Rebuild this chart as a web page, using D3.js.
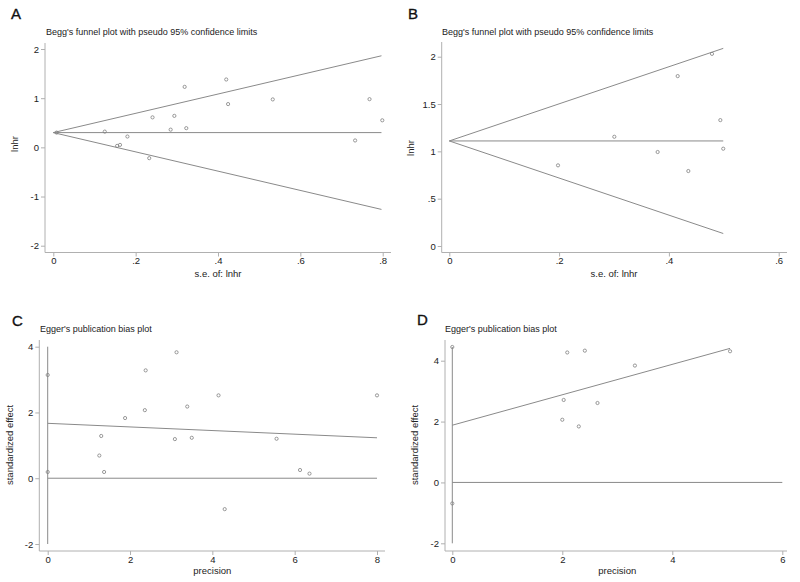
<!DOCTYPE html>
<html><head><meta charset="utf-8">
<script src="https://cdn.jsdelivr.net/npm/d3@7"></script>
<style>body{margin:0;background:#fff}svg{display:block;font-family:"Liberation Sans",Arial,sans-serif}</style>
</head><body>
<svg id="c" width="800" height="582"></svg>
<script>
// ---- Panel A: Begg's funnel (s.e. of lnhr, lnhr)
const aSE   = [0.008,0.125,0.155,0.162,0.18,0.233,0.241,0.285,0.294,0.319,0.323,0.42,0.4245,0.533,0.733,0.768,0.799];
const aLnhr = [0.30,0.32,0.03,0.05,0.22,-0.22,0.61,0.36,0.64,1.23,0.39,1.38,0.88,0.975,0.14,0.98,0.55];
const aPooled = 0.30;
const aXTicks = [0,0.2,0.4,0.6,0.8];
const aYTicks = [-2,-1,0,1,2];
// ---- Panel B: Begg's funnel
const bSE   = [0.198,0.3006,0.3795,0.416,0.4354,0.4785,0.4937,0.499];
const bLnhr = [0.852,1.154,0.993,1.795,0.792,2.03,1.33,1.028];
const bPooled = 1.11;
const bXTicks = [0,0.2,0.4,0.6];
const bYTicks = [0,0.5,1,1.5,2];
// ---- Panel C: Egger's plot (precision, standardized effect)
const cPrec = [0,0,1.254,1.30,1.37,1.88,2.36,2.38,3.09,3.13,3.39,3.50,4.15,4.30,5.56,6.13,6.36,8.0];
const cStd  = [3.14,0.19,0.69,1.285,0.19,1.83,2.07,3.28,1.19,3.83,2.18,1.23,2.52,-0.94,1.20,0.25,0.14,2.52];
const cFit  = [1.67,-0.055];   // intercept, slope
const cFitX = [0,8];
const cVert = [-2,4];
const cXTicks = [0,2,4,6,8];
const cYTicks = [-2,0,2,4];
// ---- Panel D: Egger's plot
const dPrec = [0,0,2.0,2.025,2.09,2.30,2.41,2.64,3.32,5.05];
const dStd  = [4.45,-0.69,2.06,2.71,4.27,1.84,4.33,2.61,3.84,4.31];
const dFit  = [1.88,0.50];
const dFitX = [0,5.05];
const dVert = [-2,4.45];
const dXTicks = [0,2,4,6];
const dYTicks = [-2,0,2,4];

const svg = d3.select("#c");
const LINE = "#8a8a8a", AXIS = "#b0b0b0", TXT = "#222", MARK = "#808080";
const fmtDot = d => d===0 ? "0" : String(d).replace(/^0\./,".");

function panel(o){
  const g = svg.append("g");
  const x = d3.scaleLinear().domain(o.xd).range(o.xr);
  const y = d3.scaleLinear().domain(o.yd).range(o.yr);
  g.append("line").attr("x1",o.left).attr("x2",o.left).attr("y1",o.top).attr("y2",o.bottom).attr("stroke",AXIS);
  g.append("line").attr("x1",o.left).attr("x2",o.right).attr("y1",o.bottom).attr("y2",o.bottom).attr("stroke",AXIS);
  const ya = g.append("g").attr("transform",`translate(${o.left},0)`)
    .call(d3.axisLeft(y).tickValues(o.yt).tickSize(4).tickSizeOuter(0).tickFormat(o.fmt));
  const xa = g.append("g").attr("transform",`translate(0,${o.bottom})`)
    .call(d3.axisBottom(x).tickValues(o.xt).tickSize(4).tickSizeOuter(0).tickFormat(o.fmt));
  [ya,xa].forEach(a=>{
    a.select(".domain").remove();
    a.selectAll("line").attr("stroke",AXIS);
    a.selectAll("text").attr("fill",TXT).style("font-size","9.5px").style("font-family","'Liberation Sans',Arial,sans-serif");
  });
  ya.selectAll("text").attr("x",-6);
  xa.selectAll("text").attr("y",5);
  g.append("text").attr("x",o.letterX).attr("y",o.letterY).text(o.letter)
    .attr("fill","#111").attr("stroke","#111").attr("stroke-width",0.35).style("font-size","15px");
  g.append("text").attr("x",o.titleX).attr("y",o.titleY).text(o.title)
    .attr("fill",TXT).style("font-size","9px");
  g.append("text").attr("x",(o.xr[0]+o.xr[1])/2).attr("y",o.xlabY).attr("text-anchor","middle")
    .text(o.xlab).attr("fill",TXT).style("font-size","9.5px");
  g.append("text").attr("transform",`translate(${o.ylabX},${o.ylabCY}) rotate(-90)`).attr("text-anchor","middle")
    .text(o.ylab).attr("fill",TXT).style("font-size","9.5px");
  o.draw(g,x,y);
  g.selectAll("circle.pt").data(d3.range(o.px.length)).join("circle").attr("class","pt")
    .attr("cx",i=>x(o.px[i])).attr("cy",i=>y(o.py[i])).attr("r",1.6)
    .attr("fill","none").attr("stroke",MARK).attr("stroke-width",0.8);
}
const ln = (g,x,y,x1,y1,x2,y2)=>g.append("line").attr("x1",x(x1)).attr("y1",y(y1)).attr("x2",x(x2)).attr("y2",y(y2))
  .attr("stroke",LINE).attr("stroke-width",1);

function funnel(pooled,maxSE){
  return (g,x,y)=>{
    ln(g,x,y,0,pooled,maxSE,pooled);
    ln(g,x,y,0,pooled,maxSE,pooled+1.96*maxSE);
    ln(g,x,y,0,pooled,maxSE,pooled-1.96*maxSE);
  };
}
function egger(fit,fx,vert,xmax){
  return (g,x,y)=>{
    ln(g,x,y,0,vert[0],0,vert[1]);
    ln(g,x,y,0,0,xmax,0);
    ln(g,x,y,fx[0],fit[0]+fit[1]*fx[0],fx[1],fit[0]+fit[1]*fx[1]);
  };
}

panel({xd:[0,0.8],xr:[53.3,382.7],yd:[-2,2],yr:[245.7,49],left:45,right:391,top:43,bottom:252.5,
  xt:aXTicks,yt:aYTicks,fmt:fmtDot,letter:"A",letterX:11,letterY:19,title:"Begg's funnel plot with pseudo 95% confidence limits",
  titleX:46,titleY:35,xlab:"s.e. of: lnhr",xlabY:277,ylab:"lnhr",ylabX:18,ylabCY:144,px:aSE,py:aLnhr,draw:funnel(aPooled,0.797)});
panel({xd:[0,0.6],xr:[449.3,778.7],yd:[0,2],yr:[246,56.7],left:441.7,right:787,top:42,bottom:252.5,
  xt:bXTicks,yt:bYTicks,fmt:fmtDot,letter:"B",letterX:408,letterY:19,title:"Begg's funnel plot with pseudo 95% confidence limits",
  titleX:442,titleY:35,xlab:"s.e. of: lnhr",xlabY:277,ylab:"lnhr",ylabX:414,ylabCY:148,px:bSE,py:bLnhr,draw:funnel(bPooled,0.499)});
panel({xd:[0,8],xr:[47.7,377],yd:[-2,4],yr:[544,346.7],left:39.3,right:385,top:340,bottom:551,
  xt:cXTicks,yt:cYTicks,fmt:d=>String(d),letter:"C",letterX:12,letterY:326,title:"Egger's publication bias plot",
  titleX:40,titleY:332,xlab:"precision",xlabY:574,ylab:"standardized effect",ylabX:13,ylabCY:445,px:cPrec,py:cStd,draw:egger(cFit,cFitX,cVert,8)});
panel({xd:[0,6],xr:[452.3,782.3],yd:[-2,4],yr:[543.3,360.7],left:445,right:787,top:340,bottom:551,
  xt:dXTicks,yt:dYTicks,fmt:d=>String(d),letter:"D",letterX:417,letterY:325,title:"Egger's publication bias plot",
  titleX:445,titleY:332,xlab:"precision",xlabY:574,ylab:"standardized effect",ylabX:418,ylabCY:445,px:dPrec,py:dStd,draw:egger(dFit,dFitX,dVert,6)});
</script>
</body></html>
